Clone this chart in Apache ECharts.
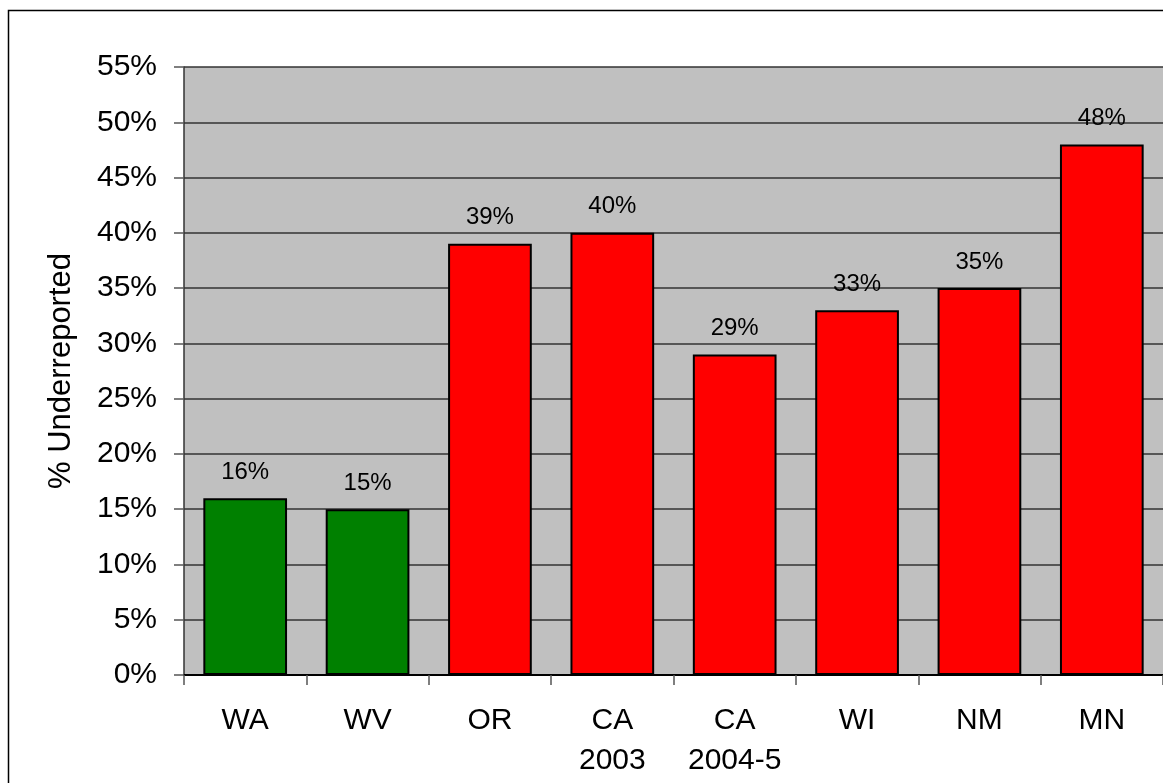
<!DOCTYPE html>
<html>
<head>
<meta charset="utf-8">
<script src="https://cdn.jsdelivr.net/npm/echarts@6/dist/echarts.min.js"></script>
<style>
	html, body { margin: 0; padding: 0; background: #fff; }
	#main { width: 1163px; height: 783px; }
</style>
</head>
<body>
<div id="main"></div>
<script>
/*数据*/
var categories = ['WA', 'WV', 'OR', 'CA\n2003', 'CA\n2004-5', 'WI', 'NM', 'MN'];
var values = [16, 15, 39, 40, 29, 33, 35, 48];
var bar_colors = ['#008000', '#008000', '#FF0000', '#FF0000', '#FF0000', '#FF0000', '#FF0000', '#FF0000'];

var font = 'Liberation Sans, Arial, sans-serif';

var bar_data = [];
for (var i = 0; i < values.length; i++) {
	bar_data.push({
		value: values[i],
		itemStyle: { color: bar_colors[i] }
	});
}

var chart = echarts.init(document.getElementById('main'));

var option = {
	animation: false,
	backgroundColor: '#fff',
	textStyle: { fontFamily: font },
	graphic: [{
		type: 'rect',
		shape: { x: 8.5, y: 10.5, width: 1200, height: 800 },
		style: { fill: 'none', stroke: '#000', lineWidth: 1.5 },
		silent: true,
		z: 100
	}],
	grid: {
		left: 184,
		top: 67,
		width: 982,
		bottom: 108,
		show: true,
		backgroundColor: '#C0C0C0',
		borderWidth: 0
	},
	xAxis: {
		type: 'category',
		data: categories,
		axisLine: { show: true, lineStyle: { color: '#000', width: 2 } },
		axisTick: { show: true, length: 10, lineStyle: { color: '#555', width: 1.5 } },
		axisLabel: {
			color: '#000',
			fontSize: 30,
			fontFamily: font,
			lineHeight: 40,
			margin: 26,
			verticalAlign: 'top',
			interval: 0
		}
	},
	yAxis: {
		type: 'value',
		min: 0,
		max: 55,
		interval: 5,
		name: '% Underreported',
		nameLocation: 'middle',
		nameGap: 107,
		nameTextStyle: { color: '#000', fontSize: 31, fontFamily: font },
		axisLine: { show: true, lineStyle: { color: '#333', width: 1.5 } },
		axisTick: { show: true, length: 10, lineStyle: { color: '#555', width: 1.5 } },
		axisLabel: {
			color: '#000',
			fontSize: 30,
			fontFamily: font,
			margin: 27,
			formatter: '{value}%'
		},
		splitLine: { show: true, lineStyle: { color: '#333', width: 1.5 } }
	},
	series: [{
		type: 'bar',
		data: bar_data,
		barCategoryGap: '31.6%',
		itemStyle: { borderColor: '#000', borderWidth: 2 },
		label: {
			show: true,
			position: 'top',
			distance: 14,
			color: '#000',
			fontSize: 24,
			fontFamily: font,
			formatter: '{c}%'
		}
	}]
};

chart.setOption(option);
</script>
</body>
</html>
